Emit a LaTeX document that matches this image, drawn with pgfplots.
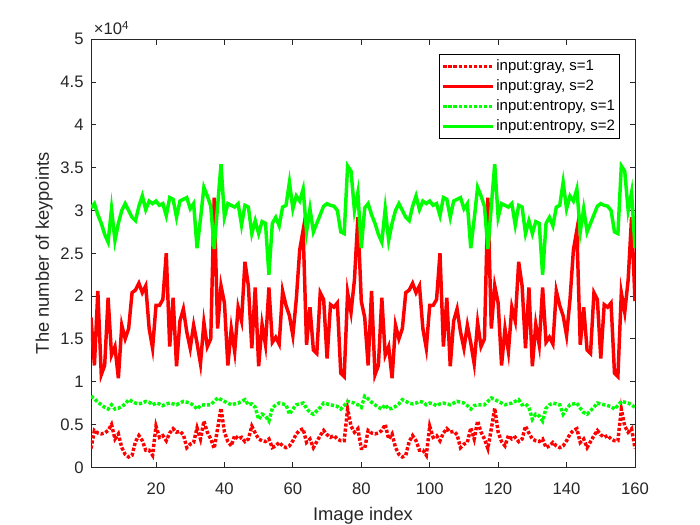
\documentclass[border=0pt]{standalone}
\usepackage{pgfplots}
\pgfplotsset{compat=1.18}
\usepackage{pgfplotstable}
\usepackage{fontspec}
\setmainfont{Liberation Sans}
% values in units of 10^4 keypoints
\pgfplotstableread{
x rd rs gd gs
1 0.22 1.75 0.83 3.03
2 0.43 1.19 0.80 3.08
3 0.40 2.06 0.76 2.95
4 0.39 1.08 0.73 2.85
5 0.40 1.19 0.70 2.72
6 0.43 1.98 0.68 2.63
7 0.50 1.31 0.73 3.02
8 0.33 1.41 0.68 2.65
9 0.39 1.04 0.69 2.85
10 0.23 1.66 0.71 3.00
11 0.15 1.50 0.74 3.08
12 0.12 1.62 0.79 3.00
13 0.14 2.04 0.77 2.92
14 0.30 2.07 0.75 2.88
15 0.37 2.15 0.74 3.05
16 0.31 2.04 0.75 3.17
17 0.20 2.12 0.77 3.01
18 0.20 1.62 0.76 3.11
19 0.14 1.39 0.73 3.08
20 0.48 1.89 0.75 3.11
21 0.35 1.89 0.74 3.06
22 0.37 1.96 0.72 3.08
23 0.31 2.50 0.74 2.94
24 0.40 1.41 0.75 3.15
25 0.45 1.98 0.74 3.13
26 0.41 1.18 0.73 2.92
27 0.42 1.71 0.75 3.11
28 0.38 1.85 0.77 3.13
29 0.23 1.58 0.76 3.15
30 0.27 1.39 0.75 3.02
31 0.29 1.66 0.72 3.08
32 0.46 1.45 0.68 2.56
33 0.33 1.21 0.72 2.90
34 0.54 1.69 0.73 3.27
35 0.41 1.41 0.73 3.17
36 0.33 1.50 0.73 3.05
37 0.22 3.15 0.77 2.55
38 0.45 1.62 0.81 3.05
39 0.69 2.12 0.79 3.54
40 0.41 1.92 0.77 2.92
41 0.30 1.19 0.75 3.08
42 0.25 1.62 0.73 3.06
43 0.37 1.35 0.74 3.04
44 0.33 1.87 0.75 3.08
45 0.35 1.71 0.77 2.83
46 0.30 2.40 0.79 3.06
47 0.33 2.12 0.73 3.04
48 0.48 1.39 0.74 2.73
49 0.40 2.10 0.70 2.88
50 0.33 1.18 0.56 2.73
51 0.31 1.67 0.62 2.87
52 0.30 1.43 0.60 2.85
53 0.33 2.10 0.54 2.25
54 0.23 1.46 0.69 2.85
55 0.25 1.52 0.73 2.92
56 0.29 1.44 0.75 2.82
57 0.25 2.06 0.74 3.04
58 0.23 1.89 0.73 3.06
59 0.25 1.77 0.62 3.33
60 0.31 1.54 0.68 3.02
61 0.39 1.96 0.73 3.17
62 0.43 2.54 0.74 3.11
63 0.45 2.77 0.75 3.25
64 0.29 1.43 0.69 2.75
65 0.33 1.87 0.64 3.02
66 0.23 1.37 0.62 2.75
67 0.30 1.33 0.66 2.85
68 0.37 2.04 0.70 2.95
69 0.43 1.96 0.75 3.05
70 0.38 1.27 0.74 3.08
71 0.35 1.90 0.73 3.06
72 0.37 1.87 0.72 3.05
73 0.33 1.92 0.71 3.00
74 0.31 1.10 0.68 2.75
75 0.31 1.06 0.72 2.73
76 0.68 2.04 0.77 3.52
77 0.48 1.81 0.76 3.46
78 0.41 2.19 0.75 3.00
79 0.45 2.92 0.73 3.21
80 0.22 1.94 0.70 2.56
81 0.22 1.75 0.83 3.03
82 0.43 1.19 0.80 3.08
83 0.40 2.06 0.76 2.95
84 0.39 1.08 0.73 2.85
85 0.40 1.19 0.70 2.72
86 0.43 1.98 0.68 2.63
87 0.50 1.31 0.73 3.02
88 0.33 1.41 0.68 2.65
89 0.39 1.04 0.69 2.85
90 0.23 1.66 0.71 3.00
91 0.15 1.50 0.74 3.08
92 0.12 1.62 0.79 3.00
93 0.14 2.04 0.77 2.92
94 0.30 2.07 0.75 2.88
95 0.37 2.15 0.74 3.05
96 0.31 2.04 0.75 3.17
97 0.20 2.12 0.77 3.01
98 0.20 1.62 0.76 3.11
99 0.14 1.39 0.73 3.08
100 0.48 1.89 0.75 3.11
101 0.35 1.89 0.74 3.06
102 0.37 1.96 0.72 3.08
103 0.31 2.50 0.74 2.94
104 0.40 1.41 0.75 3.15
105 0.45 1.98 0.74 3.13
106 0.41 1.18 0.73 2.92
107 0.42 1.71 0.75 3.11
108 0.38 1.85 0.77 3.13
109 0.23 1.58 0.76 3.15
110 0.27 1.39 0.75 3.02
111 0.29 1.66 0.72 3.08
112 0.46 1.45 0.68 2.56
113 0.33 1.21 0.72 2.90
114 0.54 1.69 0.73 3.27
115 0.41 1.41 0.73 3.17
116 0.33 1.50 0.73 3.05
117 0.22 3.15 0.77 2.55
118 0.45 1.62 0.81 3.05
119 0.69 2.12 0.79 3.54
120 0.41 1.92 0.77 2.92
121 0.30 1.19 0.75 3.08
122 0.25 1.62 0.73 3.06
123 0.37 1.35 0.74 3.04
124 0.33 1.87 0.75 3.08
125 0.35 1.71 0.77 2.83
126 0.30 2.40 0.79 3.06
127 0.33 2.12 0.73 3.04
128 0.48 1.39 0.74 2.73
129 0.40 2.10 0.70 2.88
130 0.33 1.18 0.56 2.73
131 0.31 1.67 0.62 2.87
132 0.30 1.43 0.60 2.85
133 0.33 2.10 0.54 2.25
134 0.23 1.46 0.69 2.85
135 0.25 1.52 0.73 2.92
136 0.29 1.44 0.75 2.82
137 0.25 2.06 0.74 3.04
138 0.23 1.89 0.73 3.06
139 0.25 1.77 0.62 3.33
140 0.31 1.54 0.68 3.02
141 0.39 1.96 0.73 3.17
142 0.43 2.54 0.74 3.11
143 0.45 2.77 0.75 3.25
144 0.29 1.43 0.69 2.75
145 0.33 1.87 0.64 3.02
146 0.23 1.37 0.62 2.75
147 0.30 1.33 0.66 2.85
148 0.37 2.04 0.70 2.95
149 0.43 1.96 0.75 3.05
150 0.38 1.27 0.74 3.08
151 0.35 1.90 0.73 3.06
152 0.37 1.87 0.72 3.05
153 0.33 1.92 0.71 3.00
154 0.31 1.10 0.68 2.75
155 0.31 1.06 0.72 2.73
156 0.68 2.04 0.77 3.52
157 0.48 1.81 0.76 3.46
158 0.41 2.19 0.75 3.00
159 0.45 2.92 0.73 3.21
160 0.22 1.94 0.70 2.56
}\data

\begin{document}
\begin{tikzpicture}
\path[use as bounding box] (0pt,0pt) rectangle (525pt,393.75pt);
\begin{axis}[
  name=ax,
  at={(68.25pt,43.3pt)}, anchor=south west,
  scale only axis, width=408pt, height=321pt,
  xmin=1, xmax=160, ymin=0, ymax=5,
  xtick={20,40,60,80,100,120,140,160},
  ytick={0,0.5,1,1.5,2,2.5,3,3.5,4,4.5,5},
  tick pos=both, tick align=inside, major tick length=4pt,
  axis line style={line width=0.6pt, draw=black!85},
  every tick/.style={black!85, line width=0.6pt},
  /pgf/number format/assume math mode=true,
  tick label style={font=\fontsize{12.5}{15}\selectfont, black!85},
  xticklabel style={yshift=-8pt},
  yticklabel style={xshift=-2pt},
  xlabel={Image index}, ylabel={The number of keypoints},
  label style={font=\fontsize{13.75}{16}\selectfont, black!85},
  xlabel style={at={(axis description cs:0.5,-0.114)}, anchor=center},
  ylabel style={at={(axis description cs:-0.086,0.5)}, anchor=center},
  legend image code/.code={\draw[#1] (0pt,0pt) -- (37pt,0pt);},
  legend cell align=left,
  legend style={at={(1,1)}, anchor=north east, xshift=-11.3pt, yshift=-11pt,
    draw=black, line width=0.5pt, fill=white,
    font=\fontsize{11.25}{13}\selectfont,
    inner xsep=2pt, inner ysep=1.5pt, row sep=0pt,
    nodes={inner sep=1.5pt, text height=9pt, text depth=3pt}},
]
\addplot[red, line width=2.6pt, dash pattern=on 2.4pt off 1.4pt] table[x=x, y=rd] {\data};
\addlegendentry{input:gray, s=1}
\addplot[red, line width=2.6pt] table[x=x, y=rs] {\data};
\addlegendentry{input:gray, s=2}
\addplot[green, line width=2.6pt, dash pattern=on 2.4pt off 1.4pt] table[x=x, y=gd] {\data};
\addlegendentry{input:entropy, s=1}
\addplot[green, line width=2.6pt] table[x=x, y=gs] {\data};
\addlegendentry{input:entropy, s=2}
\end{axis}
\node[anchor=south west, inner sep=0pt, font=\fontsize{12.5}{15}\selectfont, text=black!85] at ([xshift=2pt, yshift=3pt]ax.north west) {\char"00D7 10\textsuperscript{4}};
\end{tikzpicture}
\end{document}
